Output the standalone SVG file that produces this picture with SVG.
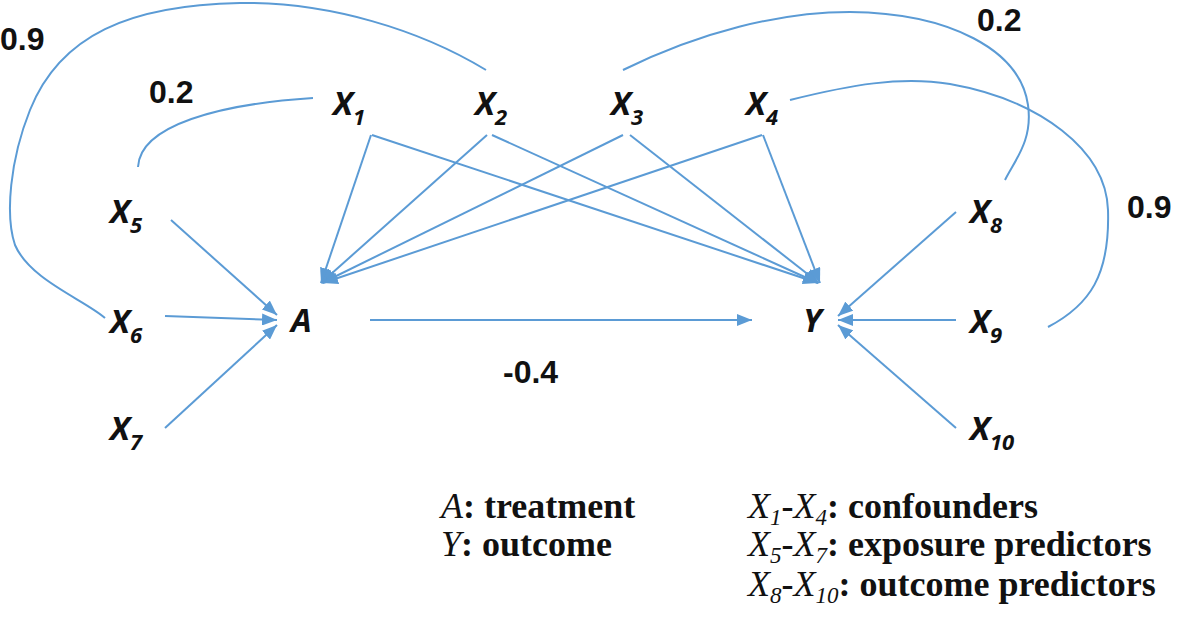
<svg xmlns="http://www.w3.org/2000/svg" width="1180" height="619" viewBox="0 0 1180 619">
<style>
.node{font-family:"Open Sans","Liberation Sans",sans-serif;font-weight:bold;font-style:italic;font-size:33px;fill:#111}
.sub{font-size:22px}
.lbl{font-family:"Liberation Sans",Arial,sans-serif;font-weight:bold;font-size:32px;fill:#111}
.leg{font-family:"Liberation Serif","Times New Roman",serif;font-weight:bold;font-size:36px;fill:#111}
.it{font-style:italic;font-weight:normal}
.lsub{font-size:23px;font-style:italic;font-weight:normal}
.e{fill:none;stroke:#5b9bd5;stroke-width:2}
.a{marker-end:url(#arr)}
</style>
<defs>
<marker id="arr" markerUnits="userSpaceOnUse" markerWidth="16" markerHeight="12" refX="15" refY="6" orient="auto">
<path d="M0,0 L15,6 L0,12 z" fill="#5b9bd5"/>
</marker>
</defs>
<g id="connectors">
<path class="e a" d="M371,135 L321,283"/>
<path class="e a" d="M487,135 L321,283"/>
<path class="e a" d="M623,135 L322,283"/>
<path class="e a" d="M762,135 L323,283"/>
<path class="e a" d="M372,135 L818,283"/>
<path class="e a" d="M492,135 L818,283"/>
<path class="e a" d="M630,135 L819,283"/>
<path class="e a" d="M763,135 L820,283"/>
<path class="e a" d="M171,220 L277,315"/>
<path class="e a" d="M165,316 L277,320"/>
<path class="e a" d="M165,428 L277,325"/>
<path class="e a" d="M370,320 L752,320"/>
<path class="e a" d="M956,212 L838,316"/>
<path class="e a" d="M956,320 L838,320"/>
<path class="e a" d="M956,428 L838,325"/>
<path class="e" d="M486,70 C420,30 330,2 240,3 C130,5 60,35 30,110 C10,160 5,215 15,245 C30,280 85,300 105,318"/>
<path class="e" d="M138,167 C140,125 220,104 313,98"/>
<path class="e" d="M623,70 C700,32 780,12 850,12 C950,13 1020,50 1028,105 C1033,140 1015,160 1005,180"/>
<path class="e" d="M790,100 C850,85 900,76 950,84 C1040,100 1106,150 1108,210 C1110,275 1090,305 1048,327"/>
</g>
<g id="edge-labels">
<text class="lbl" x="0" y="50">0.9</text>
<text class="lbl" x="149" y="103">0.2</text>
<text class="lbl" x="977" y="31">0.2</text>
<text class="lbl" x="1127" y="218">0.9</text>
<text class="lbl" x="503" y="383">-0.4</text>
</g>
<g id="X1"><text class="node" x="333" y="115">X<tspan class="sub" dy="10">1</tspan></text></g>
<g id="X2"><text class="node" x="475" y="115">X<tspan class="sub" dy="10">2</tspan></text></g>
<g id="X3"><text class="node" x="611" y="115">X<tspan class="sub" dy="10">3</tspan></text></g>
<g id="X4"><text class="node" x="746" y="115">X<tspan class="sub" dy="10">4</tspan></text></g>
<g id="X5"><text class="node" x="110" y="223">X<tspan class="sub" dy="10">5</tspan></text></g>
<g id="X6"><text class="node" x="110" y="333">X<tspan class="sub" dy="10">6</tspan></text></g>
<g id="X7"><text class="node" x="110" y="440">X<tspan class="sub" dy="10">7</tspan></text></g>
<g id="A"><text class="node" x="291" y="332">A</text></g>
<g id="Y"><text class="node" x="803" y="332">Y</text></g>
<g id="X8"><text class="node" x="970" y="223">X<tspan class="sub" dy="10">8</tspan></text></g>
<g id="X9"><text class="node" x="970" y="333">X<tspan class="sub" dy="10">9</tspan></text></g>
<g id="X10"><text class="node" x="970" y="440">X<tspan class="sub" dy="10">10</tspan></text></g>
<g id="legend">
<text class="leg" x="441" y="518"><tspan class="it">A</tspan>: treatment</text>
<text class="leg" x="441" y="556"><tspan class="it">Y</tspan>: outcome</text>
<text class="leg" x="748" y="518"><tspan class="it">X</tspan><tspan class="lsub" dy="7">1</tspan><tspan dy="-7">-</tspan><tspan class="it">X</tspan><tspan class="lsub" dy="7">4</tspan><tspan dy="-7">: confounders</tspan></text>
<text class="leg" x="748" y="556"><tspan class="it">X</tspan><tspan class="lsub" dy="7">5</tspan><tspan dy="-7">-</tspan><tspan class="it">X</tspan><tspan class="lsub" dy="7">7</tspan><tspan dy="-7">: exposure predictors</tspan></text>
<text class="leg" x="748" y="596"><tspan class="it">X</tspan><tspan class="lsub" dy="7">8</tspan><tspan dy="-7">-</tspan><tspan class="it">X</tspan><tspan class="lsub" dy="7">10</tspan><tspan dy="-7">: outcome predictors</tspan></text>
</g>
</svg>
